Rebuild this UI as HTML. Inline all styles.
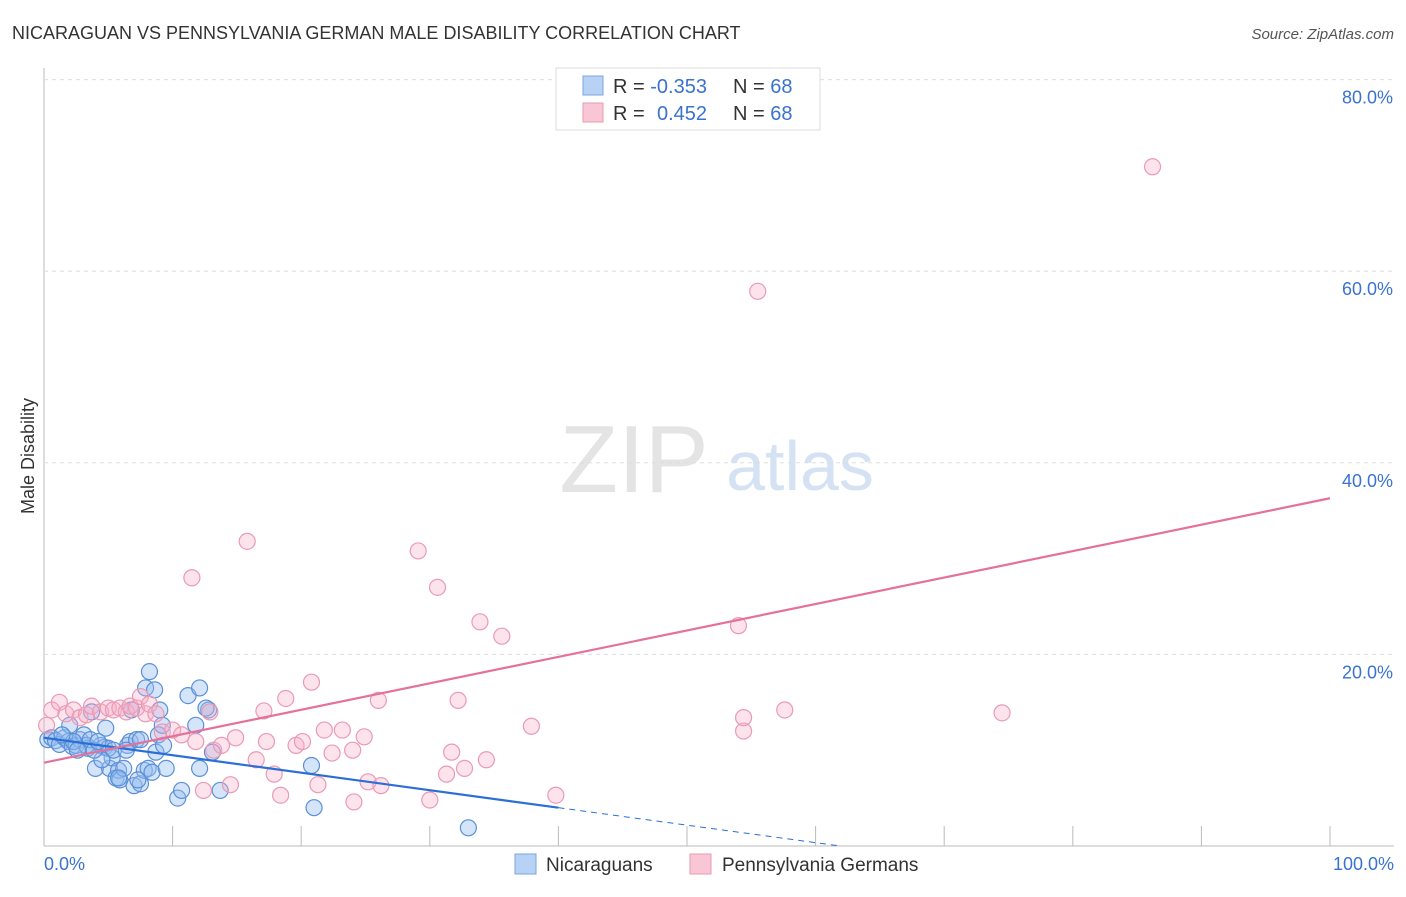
<!DOCTYPE html>
<html><head><meta charset="utf-8"><style>
body{margin:0;background:#fff;font-family:"Liberation Sans",sans-serif;}
svg text{font-family:"Liberation Sans",sans-serif;}
</style></head><body>
<svg id="c" width="1406" height="892">
<text x="12" y="39" font-size="18" fill="#333">NICARAGUAN VS PENNSYLVANIA GERMAN MALE DISABILITY CORRELATION CHART</text>
<text x="1394" y="39" font-size="15" fill="#555" font-style="italic" text-anchor="end">Source: ZipAtlas.com</text>
<text x="634" y="492" font-size="96" fill="#e4e4e4" font-family="Liberation Serif" text-anchor="middle">ZIP</text>
<text x="800" y="490" font-size="70" fill="#d4e2f4" text-anchor="middle">atlas</text>
<text x="34" y="456" font-size="18" fill="#333" text-anchor="middle" transform="rotate(-90 34 456)">Male Disability</text>
<g id="grid"></g><g id="pts"></g><g id="trend"></g>
<g>
<rect x="556" y="68" width="264" height="62" fill="#fff" stroke="#ddd"/>
<rect x="583" y="76" width="20" height="19" fill="#b8d2f5" stroke="#7aa6e0"/>
<rect x="583" y="103" width="20" height="19" fill="#f9c6d6" stroke="#eb9ab4"/>
<text x="613" y="93" font-size="20" fill="#333">R = <tspan fill="#3a72d0">-0.353</tspan><tspan x="733">N = </tspan><tspan fill="#3a72d0">68</tspan></text>
<text x="613" y="120" font-size="20" fill="#333">R = <tspan x="657" fill="#3a72d0">0.452</tspan><tspan x="733">N = </tspan><tspan fill="#3a72d0">68</tspan></text>
</g>
<g>
<rect x="515" y="854" width="21" height="20" fill="#b8d2f5" stroke="#7aa6e0"/>
<text x="546" y="871" font-size="19" fill="#333">Nicaraguans</text>
<rect x="690" y="854" width="21" height="20" fill="#f9c6d6" stroke="#eb9ab4"/>
<text x="722" y="871" font-size="19" fill="#333">Pennsylvania Germans</text>
</g>
</svg>
<script>
const yTicks=[20,40,60,80];
const yTickLabels=["20.0%","40.0%","60.0%","80.0%"];
const xTickLabels=["0.0%","100.0%"];
const blueX=[0.3,0.6,0.9,1.2,1.6,1.9,2.2,2.5,2.8,3.1,3.4,3.7,4.0,4.4,4.7,4.8,5.1,5.3,5.6,5.8,5.9,6.2,6.5,6.7,7.0,7.2,7.5,7.8,7.9,8.1,8.2,8.4,8.6,8.7,8.9,9.2,9.5,10.4,10.7,11.2,11.8,12.1,12.1,12.8,13.1,13.7,20.8,21.0,33.0,3.3,3.6,5.0,5.4,6.4,6.8,4.5,2.3,2.6,3.9,2.0,4.2,9.0,7.5,5.8,9.3,1.4,7.3,12.6];
const blueY=[11.1,11.3,11.0,10.6,11.3,10.9,10.4,10.5,11.1,11.6,10.2,14.0,8.1,10.5,10.3,12.3,8.1,9.2,7.1,7.9,6.9,8.1,10.5,10.9,6.3,11.1,6.5,7.9,16.5,8.1,18.2,7.7,16.3,9.8,11.6,12.6,8.1,5.0,5.8,15.7,12.6,16.5,8.1,14.2,9.8,5.8,8.4,4.0,1.9,10.5,11.1,10.2,10.0,10.0,14.2,9.0,10.9,10.0,10.0,12.6,10.9,14.2,11.1,7.1,10.5,11.6,6.9,14.4];
const pinkX=[0.2,0.6,1.2,1.7,2.3,2.8,3.3,3.7,4.4,5.0,5.4,5.9,6.4,6.7,7.2,7.5,7.9,8.2,8.7,9.2,10.0,10.7,11.5,11.8,12.4,12.9,13.2,13.8,14.5,14.9,15.8,16.5,17.1,17.3,17.9,18.4,18.8,19.6,20.1,20.8,21.3,21.8,22.4,23.2,24.1,24.0,24.9,25.2,26.0,26.2,29.1,30.0,30.6,31.3,31.7,32.2,32.7,33.9,34.4,35.6,37.9,39.8,54.0,54.4,54.4,55.5,57.6,74.5,86.2];
const pinkY=[12.6,14.2,15.0,13.8,14.2,13.4,13.7,14.6,14.0,14.4,14.2,14.4,14.0,14.6,14.4,15.6,13.8,14.8,13.8,11.9,12.1,11.6,28.0,10.9,5.8,14.0,10.0,10.5,6.4,11.3,31.8,9.0,14.1,10.9,7.5,5.3,15.4,10.5,10.9,17.1,6.4,12.1,9.7,12.1,4.6,10.0,11.4,6.7,15.2,6.3,30.8,4.8,27.0,7.5,9.8,15.2,8.1,23.4,9.0,21.9,12.5,5.3,23.0,12.0,13.4,57.9,14.2,13.9,70.9];
const blueTrend=[11.3,-0.1825];
const pinkTrend=[8.7,0.276];
const NS="http://www.w3.org/2000/svg";
const X=v=>44+v*12.86, Y=v=>846-v*9.58;
function mk(t,a,p){const e=document.createElementNS(NS,t);for(const k in a)e.setAttribute(k,a[k]);document.getElementById(p).appendChild(e);return e;}
const g='grid';
let ax=mk('line',{x1:44,y1:68,x2:44,y2:846,stroke:'#bbb'},g);


let bx=mk('line',{x1:44,y1:846,x2:1394,y2:846,stroke:'#bbb'},g);


yTicks.forEach((t,i)=>{
 const l=mk('line',{x1:44,y1:Y(t),x2:1394,y2:Y(t),stroke:'#ddd','stroke-dasharray':'4,4'},g);
 
 
 const tx=mk('text',{x:1393,y:Y(t)+24,'font-size':18,fill:'#3a72d0','text-anchor':'end'},g);
 tx.textContent=yTickLabels[i];
 
 
});
for(let i=1;i<=10;i++){
 const l=mk('line',{x1:X(i*10),y1:826,x2:X(i*10),y2:846,stroke:'#bbb'},g);
 
 
}
[[0,'start',44],[100,'end',1394]].forEach((d,i)=>{
 const tx=mk('text',{x:d[2],y:870,'font-size':18,fill:'#3a72d0','text-anchor':d[1]},g);
 tx.textContent=xTickLabels[i];
 
 
});
blueX.forEach((x,i)=>{
 const c=mk('circle',{cx:X(x),cy:Y(blueY[i]),r:8,fill:'rgba(150,190,240,0.4)',stroke:'#5b8fd8','stroke-width':1.2},'pts');
 
 
});
pinkX.forEach((x,i)=>{
 const c=mk('circle',{cx:X(x),cy:Y(pinkY[i]),r:8,fill:'rgba(245,175,200,0.35)',stroke:'#eb9ab4','stroke-width':1.2},'pts');
 
 
});
const bf=x=>blueTrend[0]+blueTrend[1]*x, pf=x=>pinkTrend[0]+pinkTrend[1]*x;
let t1=mk('line',{x1:X(0),y1:Y(bf(0)),x2:X(40),y2:Y(bf(40)),stroke:'#2b6fd6','stroke-width':2.2},'trend');


const z=-blueTrend[0]/blueTrend[1];
let t2=mk('line',{x1:X(40),y1:Y(bf(40)),x2:X(z),y2:Y(0),stroke:'#2b6fd6','stroke-width':1,'stroke-dasharray':'6,5'},'trend');


let t3=mk('line',{x1:X(0),y1:Y(pf(0)),x2:X(100),y2:Y(pf(100)),stroke:'#e5719a','stroke-width':2.2},'trend');


</script>
</body></html>
